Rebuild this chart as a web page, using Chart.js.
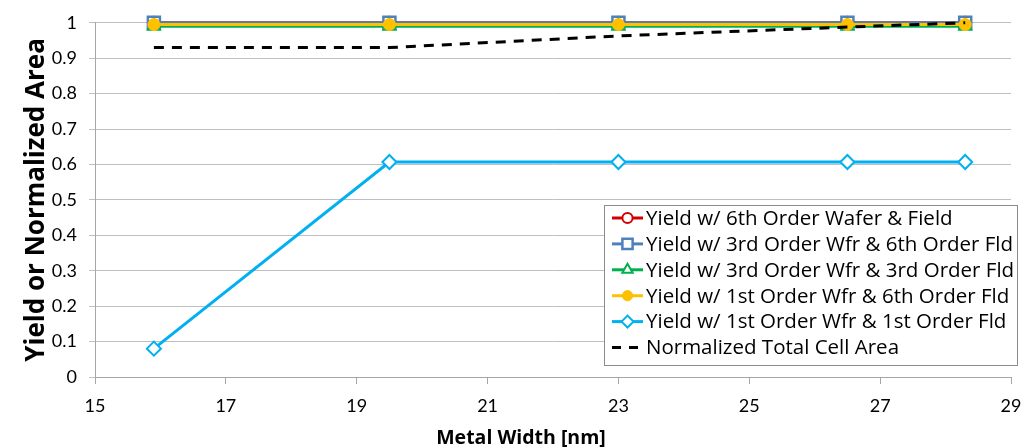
<!DOCTYPE html>
<html>
<head>
<meta charset="utf-8">
<script src="https://cdn.jsdelivr.net/npm/chart.js@4/dist/chart.umd.min.js"></script>
<style>
  html, body { margin: 0; padding: 0; background: #fff; }
  #wrap { width: 1022px; height: 448px; position: relative; }
</style>
</head>
<body>
<div id="wrap"><canvas id="c" width="1022" height="448"></canvas></div>
<script>
// ---- data ----
const metalWidth = [15.9, 19.5, 23, 26.5, 28.3];
const yield6thWaferField = [1.0, 1.0, 1.0, 1.0, 1.0];
const yield3rdWfr6thFld = [1.0, 1.0, 1.0, 1.0, 1.0];
const yield3rdWfr3rdFld = [0.99, 0.99, 0.99, 0.99, 0.99];
const yield1stWfr6thFld = [0.995, 0.995, 0.995, 0.995, 0.995];
const yield1stWfr1stFld = [0.08, 0.607, 0.607, 0.607, 0.607];
const normalizedCellArea = [0.93, 0.93, 0.963, 0.988, 1.0];
const seriesLabels = [
  'Yield w/ 6th Order Wafer & Field',
  'Yield w/ 3rd Order Wfr & 6th Order Fld',
  'Yield w/ 3rd Order Wfr & 3rd Order Fld',
  'Yield w/ 1st Order Wfr & 6th Order Fld',
  'Yield w/ 1st Order Wfr & 1st Order Fld',
  'Normalized Total Cell Area'
];
const xTicks = [15, 17, 19, 21, 23, 25, 27, 29];
const xTitle = 'Metal Width [nm]';
const yTitle = 'Yield or Normalized Area';

const FONT = '"Open Sans", Lato, sans-serif';
const TICKFONT = 'Lato, "Open Sans", sans-serif';

function pts(ys) { return metalWidth.map((x, i) => ({ x: x, y: ys[i] })); }

const datasets = [
  { label: seriesLabels[0], data: pts(yield6thWaferField), borderColor: '#D00000', backgroundColor: '#ffffff',
    pointStyle: 'circle', pointRadius: 6, pointBorderWidth: 2, borderWidth: 3, order: 5 },
  { label: seriesLabels[1], data: pts(yield3rdWfr6thFld), borderColor: '#4F81BD', backgroundColor: '#ffffff',
    pointStyle: 'rect', pointRadius: 8.5, pointBorderWidth: 2.5, borderWidth: 3, order: 4 },
  { label: seriesLabels[2], data: pts(yield3rdWfr3rdFld), borderColor: '#00B050', backgroundColor: '#ffffff',
    pointStyle: 'triangle', pointRadius: 7, pointBorderWidth: 2, borderWidth: 3, order: 3 },
  { label: seriesLabels[3], data: pts(yield1stWfr6thFld), borderColor: '#FFC000', backgroundColor: '#FFC000',
    pointStyle: 'circle', pointRadius: 6, pointBorderWidth: 1, borderWidth: 3, order: 2 },
  { label: seriesLabels[4], data: pts(yield1stWfr1stFld), borderColor: '#00B0F0', backgroundColor: '#ffffff',
    pointStyle: 'rectRot', pointRadius: 7, pointBorderWidth: 2, borderWidth: 3, order: 1 },
  { label: seriesLabels[5], data: pts(normalizedCellArea), borderColor: '#000000', backgroundColor: '#000000',
    pointRadius: 0, borderWidth: 3, borderDash: [10, 8], order: 0 }
];
datasets.forEach(d => { d.clip = false; d.tension = 0; d.pointBackgroundColor = d.backgroundColor; d.pointBorderColor = d.borderColor; d.pointHoverRadius = d.pointRadius; });

const legendBox = {
  id: 'legendBox',
  afterDraw(chart) {
    const ctx = chart.ctx;
    const x0 = 604, y0 = 205, w = 413, h = 160;
    ctx.save();
    ctx.fillStyle = '#ffffff';
    ctx.fillRect(x0, y0, w, h);
    ctx.strokeStyle = '#8c8c8c';
    ctx.lineWidth = 1;
    ctx.strokeRect(x0 + 0.5, y0 + 0.5, w, h);
    const ds = chart.data.datasets;
    ds.forEach((d, i) => {
      const cy = 218 + i * 25.9;
      const lx1 = 612, lx2 = 643, mx = (lx1 + lx2) / 2;
      ctx.strokeStyle = d.borderColor;
      ctx.lineWidth = 3;
      if (d.borderDash) {
        ctx.beginPath(); ctx.moveTo(lx1, cy); ctx.lineTo(lx1 + 9, cy);
        ctx.moveTo(lx1 + 17, cy); ctx.lineTo(lx1 + 26, cy); ctx.stroke();
      } else {
        ctx.beginPath(); ctx.moveTo(lx1, cy); ctx.lineTo(lx2, cy); ctx.stroke();
        ctx.fillStyle = d.backgroundColor;
        ctx.strokeStyle = d.borderColor;
        ctx.lineWidth = d.pointBorderWidth;
        Chart.helpers.drawPoint(ctx, { pointStyle: d.pointStyle, radius: d.pointRadius * 0.85, borderWidth: d.pointBorderWidth, rotation: 0 }, mx, cy);
      }
      ctx.fillStyle = '#000';
      ctx.font = '20.5px ' + FONT;
      ctx.textBaseline = 'middle';
      ctx.textAlign = 'left';
      ctx.fillText(d.label, 646, cy + 1);
    });
    ctx.restore();
  }
};

// x-axis title drawn at Excel's position (centred slightly left of the plot centre)
const xTitlePlugin = {
  id: 'xTitlePlugin',
  afterDraw(chart) {
    const ctx = chart.ctx;
    ctx.save();
    ctx.fillStyle = '#000';
    ctx.font = 'bold 19.5px ' + FONT;
    ctx.textAlign = 'center';
    ctx.textBaseline = 'middle';
    ctx.fillText(xTitle, 521, 438);
    ctx.restore();
  }
};

new Chart(document.getElementById('c'), {
  type: 'line',
  data: { datasets: datasets },
  plugins: [legendBox, xTitlePlugin],
  options: {
    responsive: false,
    animation: false,
    events: [],
    layout: { padding: { top: 16, right: 0, left: 0, bottom: 0 } },
    plugins: { legend: { display: false }, tooltip: { enabled: false } },
    scales: {
      x: {
        type: 'linear', min: 15, max: 29,
        afterFit(s) { s.height = 71; s.paddingRight = 9; },
        afterBuildTicks(s) { s.ticks = xTicks.map(v => ({ value: v })); },
        grid: { drawOnChartArea: false, drawTicks: true, tickLength: 7, color: '#a6a6a6', lineWidth: 1 },
        border: { color: '#a6a6a6', width: 1 },
        ticks: { color: '#000', font: { family: TICKFONT, size: 18 }, padding: 11, maxRotation: 0 },
        title: { display: false }
      },
      y: {
        type: 'linear', min: 0, max: 1,
        afterFit(s) { s.width = 95; },
        ticks: { stepSize: 0.1, color: '#000', font: { family: TICKFONT, size: 18 }, padding: 12,
          callback: v => String(Math.round(v * 10) / 10) },
        grid: { color: '#bfbfbf', lineWidth: 1, drawTicks: true, tickLength: 6 },
        border: { color: '#a6a6a6', width: 1 },
        title: { display: true, text: yTitle, color: '#000', font: { family: FONT, size: 26, weight: 'bold', lineHeight: 1.1 }, padding: { top: 22, bottom: 0 } }
      }
    }
  }
});
</script>
</body>
</html>
